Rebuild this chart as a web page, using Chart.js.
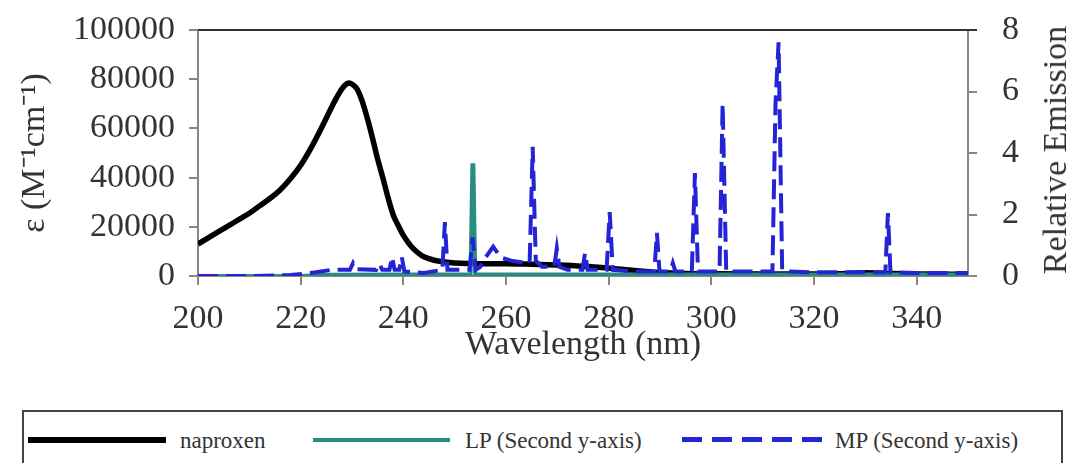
<!DOCTYPE html>
<html><head><meta charset="utf-8">
<script src="https://cdn.jsdelivr.net/npm/chart.js@4.4.0/dist/chart.umd.min.js"></script>
<style>
html,body{margin:0;padding:0;background:#fff;}
#wrap{position:relative;width:1068px;height:463px;overflow:hidden;font-family:"Liberation Serif","Times New Roman",serif;color:#333;}
#box{position:absolute;left:0;top:0;width:1068px;height:400px;}
#rtitle{position:absolute;left:1055px;top:150px;transform:translate(-50%,-50%) rotate(-90deg);font-size:34px;white-space:nowrap;line-height:1;}
#legend{position:absolute;left:22px;top:410px;width:1041px;height:90px;border:2px solid #444;box-sizing:border-box;}
.ln{position:absolute;}
.lt{position:absolute;font-size:23px;line-height:1;top:429px;white-space:nowrap;color:#333;}
</style></head>
<body><div id="wrap">
<div id="box"><canvas id="cv"></canvas></div>
<div id="rtitle">Relative Emission</div>
<div id="legend"></div>
<div class="ln" style="left:28px;top:437px;width:138px;height:6px;background:#000;"></div>
<div class="lt" style="left:180px;">naproxen</div>
<div class="ln" style="left:313px;top:438px;width:137px;height:4px;background:#2a8c82;"></div>
<div class="lt" style="left:465px;">LP (Second y-axis)</div>
<div class="ln" style="left:682px;top:437px;width:140px;height:5px;background:repeating-linear-gradient(90deg,#2424d6 0 20px,transparent 20px 30px);"></div>
<div class="lt" style="left:835px;">MP (Second y-axis)</div>
</div>
<script>
// ---- data ----
const xTicks = [200, 220, 240, 260, 280, 300, 320, 340];
const leftTicks = [0, 20000, 40000, 60000, 80000, 100000];
const rightTicks = [0, 2, 4, 6, 8];

const naproxenWl = [200,202,204,206,208,210,212,214,216,218,220,222,224,226,227,228,229,229.5,230,231,232,233,234,235,236,237,238,239,240,241,242,243,244,246,248,250,255,260,265,270,275,280,285,290,295,300,310,320,325,330,335,340,350];
const naproxenEps = [13000,15500,18000,20500,23000,25500,28500,31500,35000,39500,45000,52000,60000,68500,72500,76000,78200,78500,78000,76000,71000,64000,56000,47500,40000,32000,25000,20500,16500,13500,11000,9200,7800,6400,5700,5300,5000,5000,4800,4500,4000,3200,2200,1400,1000,900,800,800,900,1300,1000,800,700];

const lpWl = [200,220,225,240,250,253.1,253.45,253.65,254.0,260,300,350];
const lpEm = [0,0,0.04,0.05,0.05,0.05,3.6,3.6,0.05,0.05,0.05,0.05];

const mpWl = [200,210,218,222,226,229.6,230.2,230.8,234.7,235.3,235.9,237.3,237.8,238.3,239.2,239.7,240.2,244,247.6,248.1,248.6,252.9,253.5,254.1,255,256,257.5,259,261,263,264.6,265.2,265.8,267,269.4,269.9,270.4,272,274.9,275.4,275.9,279.6,280.2,280.8,285,288.9,289.4,289.9,292,292.5,293,296.2,296.8,297.4,301.6,302.2,302.9,311.9,312.5,313.1,313.8,314.5,320,333.9,334.4,334.9,340,350];
const mpEm = [0,0,0.03,0.1,0.2,0.2,0.42,0.22,0.2,0.4,0.2,0.2,0.62,0.2,0.2,0.62,0.15,0.1,0.2,1.75,0.2,0.2,1.25,0.2,0.3,0.6,0.95,0.6,0.5,0.45,0.4,4.2,0.5,0.3,0.3,0.9,0.3,0.2,0.2,0.75,0.2,0.2,2.08,0.2,0.15,0.15,1.4,0.15,0.15,0.42,0.15,0.15,3.35,0.15,0.15,5.6,0.15,0.15,5.6,7.6,0.2,0.15,0.12,0.12,2.05,0.12,0.1,0.1];

const pts = (xs, ys) => xs.map((x, i) => ({x: x, y: ys[i]}));

const frame = {
  id: 'frame',
  afterDraw(chart) {
    const {ctx, chartArea: a} = chart;
    ctx.save();
    ctx.strokeStyle = '#333';
    ctx.lineWidth = 2;
    ctx.beginPath();
    ctx.moveTo(a.left, a.top);
    ctx.lineTo(a.right + 9, a.top);
    ctx.stroke();
    ctx.restore();
  }
};

const tickFont = {family: '"Liberation Serif", "Times New Roman", serif', size: 34};
const axisGrid = {display: true, drawOnChartArea: false, drawTicks: true, tickLength: 9, color: '#888', lineWidth: 2};
const noPad = s => { s.paddingTop = 0; s.paddingBottom = 0; s.paddingLeft = 0; s.paddingRight = 0; };

new Chart(document.getElementById('cv'), {
  type: 'line',
  data: {
    datasets: [
      {label: 'naproxen', data: pts(naproxenWl, naproxenEps), yAxisID: 'y', borderColor: '#000', borderWidth: 5.5, pointRadius: 0, tension: 0.4, cubicInterpolationMode: 'monotone', order: 3},
      {label: 'LP (Second y-axis)', data: pts(lpWl, lpEm), yAxisID: 'y2', borderColor: '#2a8c82', borderWidth: 4, pointRadius: 0, tension: 0, order: 2},
      {label: 'MP (Second y-axis)', data: pts(mpWl, mpEm), yAxisID: 'y2', borderColor: '#2424d6', borderWidth: 4, borderDash: [20, 8], pointRadius: 0, tension: 0, order: 1}
    ]
  },
  options: {
    responsive: true,
    maintainAspectRatio: false,
    animation: false,
    layout: {padding: {top: 30, left: 0, right: 0, bottom: 0}},
    plugins: {legend: {display: false}, tooltip: {enabled: false}},
    scales: {
      x: {
        type: 'linear', min: 200, max: 350,
        afterBuildTicks: s => { s.ticks = xTicks.map(v => ({value: v})); },
        afterFit: s => { s.height = 124; noPad(s); },
        grid: axisGrid,
        border: {display: true, color: '#888', width: 2},
        ticks: {font: tickFont, color: '#333', padding: 14, maxRotation: 0},
        title: {display: true, text: 'Wavelength (nm)', font: tickFont, color: '#333', padding: {top: 0, bottom: 35}}
      },
      y: {
        type: 'linear', position: 'left', min: 0, max: 100000,
        afterBuildTicks: s => { s.ticks = leftTicks.map(v => ({value: v})); },
        afterFit: s => { s.width = 198; noPad(s); },
        grid: axisGrid,
        border: {display: true, color: '#888', width: 2},
        ticks: {font: tickFont, color: '#333', padding: 14, callback: v => String(v)},
        title: {display: true, text: 'ε (M⁻¹cm⁻¹)', font: tickFont, color: '#333', padding: {top: 15, bottom: 0}}
      },
      y2: {
        type: 'linear', position: 'right', min: 0, max: 8,
        afterBuildTicks: s => { s.ticks = rightTicks.map(v => ({value: v})); },
        afterFit: s => { s.width = 100; noPad(s); },
        grid: axisGrid,
        border: {display: true, color: '#888', width: 2},
        ticks: {font: tickFont, color: '#333', padding: 25}
      }
    }
  },
  plugins: [frame]
});
</script>
</body></html>
